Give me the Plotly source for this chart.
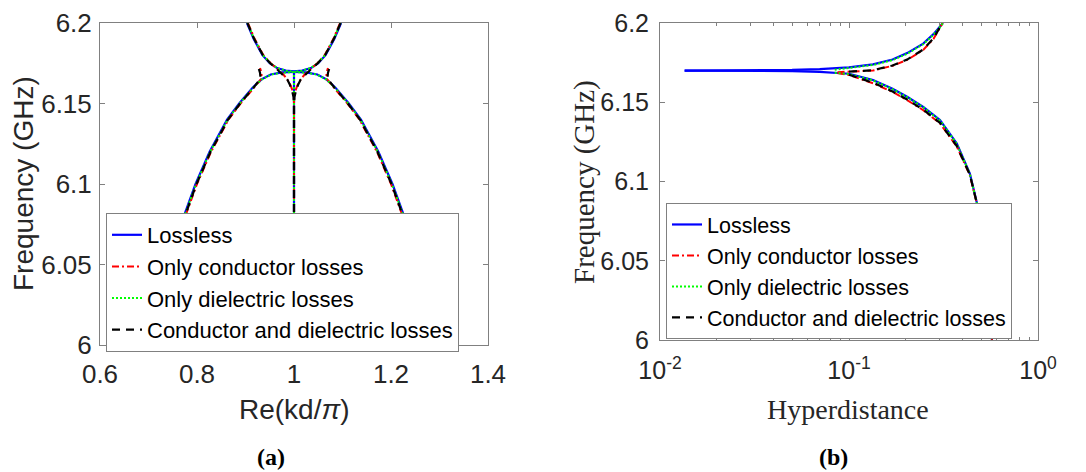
import plotly.graph_objects as go

# ================= Panel (a): Re(kd/pi) vs frequency =================
# Lossless
A_LL_LOW_F = [6.0, 6.02, 6.04, 6.06, 6.08, 6.10, 6.12, 6.14, 6.15, 6.16, 6.165, 6.168, 6.1693, 6.1697]
A_LL_LOW_KD_L = [0.699, 0.718, 0.737, 0.755, 0.773, 0.797, 0.826, 0.862, 0.887, 0.915, 0.933, 0.952, 0.975, 1.0]
A_LL_LOW_KD_R = [1.301, 1.282, 1.263, 1.245, 1.227, 1.203, 1.174, 1.138, 1.113, 1.085, 1.067, 1.048, 1.025, 1.0]
A_LL_UP_F = [6.2, 6.19, 6.18, 6.175, 6.172, 6.1705, 6.170]
A_LL_UP_KD_L = [0.903, 0.917, 0.935, 0.950, 0.965, 0.983, 1.0]
A_LL_UP_KD_R = [1.097, 1.083, 1.065, 1.050, 1.035, 1.017, 1.0]
A_LL_GAP_F = [6.0, 6.17]
A_LL_GAP_KD = [1.0, 1.0]

# Only conductor losses
A_CO_UP_F = [6.2, 6.19, 6.18, 6.175, 6.171, 6.168, 6.165, 6.162, 6.158, 6.154, 6.15, 6.0]
A_CO_UP_KD_L = [0.905, 0.919, 0.937, 0.952, 0.967, 0.978, 0.986, 0.992, 0.997, 0.9995, 1.0, 1.0]
A_CO_UP_KD_R = [1.095, 1.081, 1.063, 1.048, 1.033, 1.022, 1.014, 1.008, 1.003, 1.0005, 1.0, 1.0]
A_CO_LOW_F = [6.0, 6.02, 6.04, 6.06, 6.08, 6.10, 6.12, 6.14, 6.15, 6.16, 6.1655, 6.169, 6.172]
A_CO_LOW_KD_L = [0.701, 0.720, 0.739, 0.757, 0.776, 0.800, 0.829, 0.865, 0.890, 0.918, 0.933, 0.933, 0.930]
A_CO_LOW_KD_R = [1.299, 1.280, 1.261, 1.243, 1.224, 1.200, 1.171, 1.135, 1.110, 1.082, 1.067, 1.067, 1.070]

# Only dielectric losses
A_DI_LOW_F = [6.0, 6.02, 6.04, 6.06, 6.08, 6.10, 6.12, 6.14, 6.15, 6.16, 6.165, 6.168, 6.1692, 6.1695]
A_DI_LOW_KD_L = [0.700, 0.719, 0.738, 0.756, 0.774, 0.798, 0.827, 0.863, 0.888, 0.916, 0.934, 0.953, 0.976, 1.0]
A_DI_LOW_KD_R = [1.300, 1.281, 1.262, 1.244, 1.226, 1.202, 1.173, 1.137, 1.112, 1.084, 1.066, 1.047, 1.024, 1.0]
A_DI_UP_F = [6.2, 6.19, 6.18, 6.175, 6.172, 6.1703, 6.1698]
A_DI_UP_KD_L = [0.904, 0.918, 0.936, 0.951, 0.966, 0.984, 1.0]
A_DI_UP_KD_R = [1.096, 1.082, 1.064, 1.049, 1.034, 1.016, 1.0]
A_DI_GAP_F = [6.0, 6.169]
A_DI_GAP_KD = [1.0, 1.0]

# Conductor and dielectric losses
A_CD_UP_F = [6.2, 6.19, 6.18, 6.175, 6.171, 6.168, 6.165, 6.162, 6.158, 6.154, 6.15, 6.0]
A_CD_UP_KD_L = [0.904, 0.918, 0.936, 0.951, 0.966, 0.977, 0.986, 0.991, 0.996, 0.999, 1.0, 1.0]
A_CD_UP_KD_R = [1.096, 1.082, 1.064, 1.049, 1.034, 1.023, 1.014, 1.009, 1.004, 1.001, 1.0, 1.0]
A_CD_LOW_F = [6.0, 6.02, 6.04, 6.06, 6.08, 6.10, 6.12, 6.14, 6.15, 6.16, 6.1655, 6.169, 6.172]
A_CD_LOW_KD_L = [0.700, 0.719, 0.738, 0.756, 0.775, 0.799, 0.828, 0.864, 0.889, 0.917, 0.931, 0.930, 0.927]
A_CD_LOW_KD_R = [1.300, 1.281, 1.262, 1.244, 1.225, 1.201, 1.172, 1.136, 1.111, 1.083, 1.069, 1.070, 1.073]

# ================= Panel (b): Hyperdistance vs frequency =================
B_LL_UP_H = [0.0135, 0.02, 0.03, 0.05, 0.07, 0.1, 0.134, 0.17, 0.203, 0.247, 0.28, 0.303, 0.314]
B_LL_UP_F = [6.1700, 6.1700, 6.1701, 6.1704, 6.1709, 6.1720, 6.1739, 6.1770, 6.1810, 6.1870, 6.1930, 6.1977, 6.2000]
B_LL_LOW_H = [0.0135, 0.02, 0.03, 0.05, 0.07, 0.1, 0.134, 0.17, 0.203, 0.247, 0.303, 0.372, 0.436, 0.475, 0.52, 0.571]
B_LL_LOW_F = [6.1700, 6.1700, 6.1699, 6.1696, 6.1692, 6.1680, 6.1640, 6.1585, 6.1535, 6.1470, 6.1388, 6.1240, 6.1050, 6.0864, 6.0480, 6.0000]

B_CO_UP_H = [0.087, 0.1, 0.134, 0.17, 0.203, 0.247, 0.28, 0.313]
B_CO_UP_F = [6.1690, 6.1692, 6.1700, 6.1730, 6.1767, 6.1830, 6.1900, 6.2000]
B_CO_LOW_H = [0.087, 0.1, 0.134, 0.17, 0.203, 0.247, 0.303, 0.372, 0.436, 0.475, 0.52, 0.571]
B_CO_LOW_F = [6.1685, 6.1672, 6.1620, 6.1565, 6.1514, 6.1450, 6.1367, 6.1220, 6.1040, 6.0860, 6.0480, 6.0000]

B_DI_UP_H = [0.084, 0.1, 0.134, 0.17, 0.203, 0.247, 0.28, 0.303, 0.314]
B_DI_UP_F = [6.1705, 6.1715, 6.1735, 6.1766, 6.1806, 6.1866, 6.1926, 6.1973, 6.2000]
B_DI_LOW_H = [0.084, 0.1, 0.134, 0.17, 0.203, 0.247, 0.303, 0.372, 0.436, 0.475, 0.52, 0.571]
B_DI_LOW_F = [6.1686, 6.1678, 6.1638, 6.1583, 6.1532, 6.1468, 6.1385, 6.1237, 6.1048, 6.0862, 6.0478, 6.0000]

B_CD_UP_H = [0.1, 0.134, 0.17, 0.203, 0.247, 0.28, 0.312]
B_CD_UP_F = [6.1693, 6.1702, 6.1732, 6.1769, 6.1833, 6.1903, 6.2000]
B_CD_LOW_H = [0.1, 0.134, 0.17, 0.203, 0.247, 0.303, 0.372, 0.436, 0.475, 0.52, 0.571]
B_CD_LOW_F = [6.1674, 6.1623, 6.1568, 6.1517, 6.1453, 6.1370, 6.1223, 6.1043, 6.0862, 6.0482, 6.0000]

# Axis ticks
A_X_TICKS = [0.6, 0.8, 1.0, 1.2, 1.4]
A_X_TEXT = ["0.6", "0.8", "1", "1.2", "1.4"]
Y_TICKS = [6.0, 6.05, 6.1, 6.15, 6.2]
Y_TEXT = ["6", "6.05", "6.1", "6.15", "6.2"]
B_X_TICKS = [0.01, 0.1, 1.0]
B_X_TEXT = ["10<sup>-2</sup>", "10<sup>-1</sup>", "10<sup>0</sup>"]
B_X_MINOR = [0.02, 0.03, 0.04, 0.05, 0.06, 0.07, 0.08, 0.09, 0.2, 0.3, 0.4, 0.5, 0.6, 0.7, 0.8, 0.9]

NAMES = ["Lossless", "Only conductor losses", "Only dielectric losses", "Conductor and dielectric losses"]
COLORS = ["#0000ff", "#ff0000", "#00ff00", "#000000"]
DASHES = ["solid", "7px,3px,2px,3px", "2px,2px", "8px,6px"]
WIDTHS = [2.2, 2.0, 2.0, 2.2]

fig = go.Figure()


def add(segments, idx, xaxis, yaxis, legend):
    xs, ys = [], []
    for sx, sy in segments:
        xs += list(sx) + [None]
        ys += list(sy) + [None]
    fig.add_trace(go.Scatter(
        x=xs, y=ys, mode="lines", name=NAMES[idx],
        line=dict(color=COLORS[idx], dash=DASHES[idx], width=WIDTHS[idx]),
        xaxis=xaxis, yaxis=yaxis, legend=legend, hoverinfo="skip",
        connectgaps=False))


# panel (a)
add([(A_LL_LOW_KD_L, A_LL_LOW_F), (A_LL_LOW_KD_R, A_LL_LOW_F),
     (A_LL_UP_KD_L, A_LL_UP_F), (A_LL_UP_KD_R, A_LL_UP_F),
     (A_LL_GAP_KD, A_LL_GAP_F)], 0, "x", "y", "legend")
add([(A_CO_UP_KD_L, A_CO_UP_F), (A_CO_UP_KD_R, A_CO_UP_F),
     (A_CO_LOW_KD_L, A_CO_LOW_F), (A_CO_LOW_KD_R, A_CO_LOW_F)], 1, "x", "y", "legend")
add([(A_DI_LOW_KD_L, A_DI_LOW_F), (A_DI_LOW_KD_R, A_DI_LOW_F),
     (A_DI_UP_KD_L, A_DI_UP_F), (A_DI_UP_KD_R, A_DI_UP_F),
     (A_DI_GAP_KD, A_DI_GAP_F)], 2, "x", "y", "legend")
add([(A_CD_UP_KD_L, A_CD_UP_F), (A_CD_UP_KD_R, A_CD_UP_F),
     (A_CD_LOW_KD_L, A_CD_LOW_F), (A_CD_LOW_KD_R, A_CD_LOW_F)], 3, "x", "y", "legend")

# panel (b)
add([(B_LL_UP_H, B_LL_UP_F), (B_LL_LOW_H, B_LL_LOW_F)], 0, "x2", "y2", "legend2")
add([(B_CO_UP_H, B_CO_UP_F), (B_CO_LOW_H, B_CO_LOW_F)], 1, "x2", "y2", "legend2")
add([(B_DI_UP_H, B_DI_UP_F), (B_DI_LOW_H, B_DI_LOW_F)], 2, "x2", "y2", "legend2")
add([(B_CD_UP_H, B_CD_UP_F), (B_CD_LOW_H, B_CD_LOW_F)], 3, "x2", "y2", "legend2")

# The page body has an 8px default margin (top/left): offset the figure so that
# window pixels line up with the reference, and let it run to the window edge.
OFF = 8
W, H = 1086 - 2 * OFF, 472 - OFF


def px(x):  # window pixel x -> paper fraction
    return (x - OFF) / W


def py(y):  # window pixel y -> paper fraction
    return 1 - (y - OFF) / H


AX_COL = "#808080"
TXT_COL = "#262626"
SANS = "Liberation Sans"
SERIF = "Liberation Serif"

axis_common = dict(showline=True, linecolor=AX_COL, linewidth=1, mirror="ticks",
                   ticks="inside", ticklen=5, tickcolor=AX_COL, tickwidth=1,
                   showgrid=False, zeroline=False, tickmode="array", automargin=False)

fig.update_layout(
    width=W, height=H, margin=dict(l=0, r=0, t=0, b=0, autoexpand=False),
    paper_bgcolor="white", plot_bgcolor="white",
    xaxis=dict(domain=[px(100), px(488)], range=[0.6, 1.4], anchor="y",
               tickvals=A_X_TICKS, ticktext=A_X_TEXT,
               tickfont=dict(family=SANS, size=26, color=TXT_COL), ticklabelstandoff=6,
               **axis_common),
    yaxis=dict(domain=[py(345), py(23)], range=[6.0, 6.2], anchor="x",
               tickvals=Y_TICKS, ticktext=Y_TEXT,
               tickfont=dict(family=SANS, size=26, color=TXT_COL), ticklabelstandoff=2,
               **axis_common),
    xaxis2=dict(domain=[px(660), px(1038)], type="log", range=[-2, 0], anchor="y2",
                tickvals=B_X_TICKS, ticktext=B_X_TEXT,
                tickfont=dict(family=SANS, size=25, color=TXT_COL), ticklabelstandoff=8,
                minor=dict(tickvals=B_X_MINOR, ticks="inside", ticklen=3, tickcolor=AX_COL),
                **axis_common),
    yaxis2=dict(domain=[py(340), py(23)], range=[6.0, 6.2], anchor="x2",
                tickvals=Y_TICKS, ticktext=Y_TEXT,
                tickfont=dict(family=SANS, size=25, color=TXT_COL), ticklabelstandoff=5,
                **axis_common),
    legend=dict(x=px(106), y=py(213), xanchor="left", yanchor="top",
                bgcolor="white", bordercolor=AX_COL, borderwidth=1,
                font=dict(family=SANS, size=22, color="black"), tracegroupgap=0),
    legend2=dict(x=px(666), y=py(203), xanchor="left", yanchor="top",
                 bgcolor="white", bordercolor=AX_COL, borderwidth=1,
                 font=dict(family=SANS, size=21.5, color="black"), tracegroupgap=0),
    showlegend=True,
)

annotations = [
    dict(text="Frequency (GHz)", x=px(23), y=py(184), textangle=-90,
         font=dict(family=SANS, size=28, color=TXT_COL)),
    dict(text="Re(kd/<i>π</i>)", x=px(294), y=py(409),
         font=dict(family=SANS, size=28, color=TXT_COL)),
    dict(text="Frequency (GHz)", x=px(584), y=py(182), textangle=-90,
         font=dict(family=SERIF, size=29, color=TXT_COL)),
    dict(text="Hyperdistance", x=px(848), y=py(409),
         font=dict(family=SERIF, size=28, color=TXT_COL)),
    dict(text="<b>(a)</b>", x=px(271), y=py(457),
         font=dict(family=SERIF, size=24, color="black")),
    dict(text="<b>(b)</b>", x=px(833), y=py(457),
         font=dict(family=SERIF, size=24, color="black")),
]
for a in annotations:
    a.update(xref="paper", yref="paper", showarrow=False, xanchor="center", yanchor="middle")
fig.update_layout(annotations=annotations)

fig.write_html("out.html")
